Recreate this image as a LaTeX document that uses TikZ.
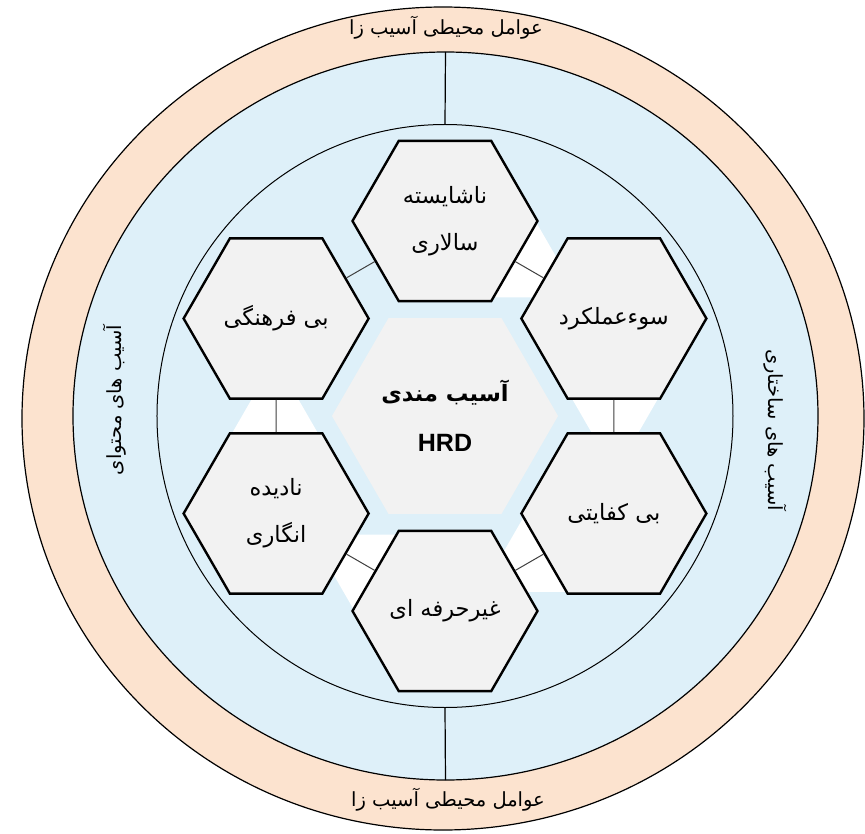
\documentclass[tikz,border=0pt]{standalone}
\usepackage{fontspec}
\setmainfont{Liberation Sans}
\newfontfamily\farsifont[Script=Arabic]{DejaVu Sans}
\TeXXeTstate=1
\usepackage{tikz}
\usetikzlibrary{shapes.geometric}

\definecolor{ringpeach}{RGB}{252,227,207}
\definecolor{ringblue}{RGB}{222,240,249}
\definecolor{hexgray}{RGB}{242,242,242}

\newcommand{\fatext}[1]{{\farsifont\beginR #1\endR}}

\tikzset{
  ring/.style={ellipse,draw=black,line width=1.2pt,inner sep=0pt,outer sep=0pt},
  hexbox/.style={regular polygon,regular polygon sides=6,minimum size=185pt,
    inner sep=0pt,draw=black,line width=2.4pt,fill=hexgray,align=center,
    font=\fontsize{22.5}{47}\selectfont},
  link/.style={draw=black!75,line width=1pt},
  sidetext/.style={font=\fontsize{19.5}{22}\selectfont},
}

\begin{document}
\begin{tikzpicture}[x=1pt,y=1pt]
\useasboundingbox (-445,-417) rectangle (420,416);
% rings
\node[ring,fill=ringpeach,minimum width=842pt,minimum height=823pt] (outerring) at (-2,-2.5) {};
\node[ring,fill=ringblue,minimum width=745pt,minimum height=728pt] (midring) at (0.5,0) {};
\node[ring,line width=1pt,fill=ringblue,minimum width=576pt,minimum height=583pt] (innerring) at (0,0) {};
\draw[link,draw=black,line width=1.2pt] (midring.north) -- (innerring.north);
\draw[link,draw=black,line width=1.2pt] (midring.south) -- (innerring.south);

\node[sidetext] (toplabel) at (1,388) {\fatext{عوامل محیطی آسیب زا}};
\node[sidetext] (bottomlabel) at (3,-384) {\fatext{عوامل محیطی آسیب زا}};
\node[sidetext,rotate=90] (leftlabel) at (-330,16) {\fatext{آسیب های محتوای}};
\node[sidetext,rotate=-90] (rightlabel) at (330,-14) {\fatext{آسیب های ساختاری}};

% white links behind the hexagons
\foreach \a in {0,60,120,180,240}
  \fill[white,rotate=\a] (-185.7,30) -- (-154.3,30) -- (-119.7,-30) -- (-220.3,-30) -- cycle;

% hexagons
\node[hexbox,draw=none,minimum size=226pt,font=\fontsize{22.5}{50}\selectfont\bfseries] (core) at (0,0)
  {\fatext{آسیب مندی}\\{\fontsize{25}{50}\selectfont HRD}};
\node[hexbox] (hxtop) at (90:195) {\fatext{ناشایسته}\\\fatext{سالاری}};
\node[hexbox] (hxur) at (30:195) {\fatext{سوءعملکرد}};
\node[hexbox] (hxlr) at (-30:195) {\fatext{بی کفایتی}};
\node[hexbox] (hxbot) at (-90:195) {\fatext{غیرحرفه ای}};
\node[hexbox] (hxll) at (-150:195) {\fatext{نادیده}\\\fatext{انگاری}};
\node[hexbox] (hxul) at (150:195) {\fatext{بی فرهنگی}};

\draw[link] (hxtop) -- (hxur);
\draw[link] (hxur) -- (hxlr);
\draw[link] (hxlr) -- (hxbot);
\draw[link] (hxbot) -- (hxll);
\draw[link] (hxll) -- (hxul);
\draw[link] (hxul) -- (hxtop);
\end{tikzpicture}
\end{document}
